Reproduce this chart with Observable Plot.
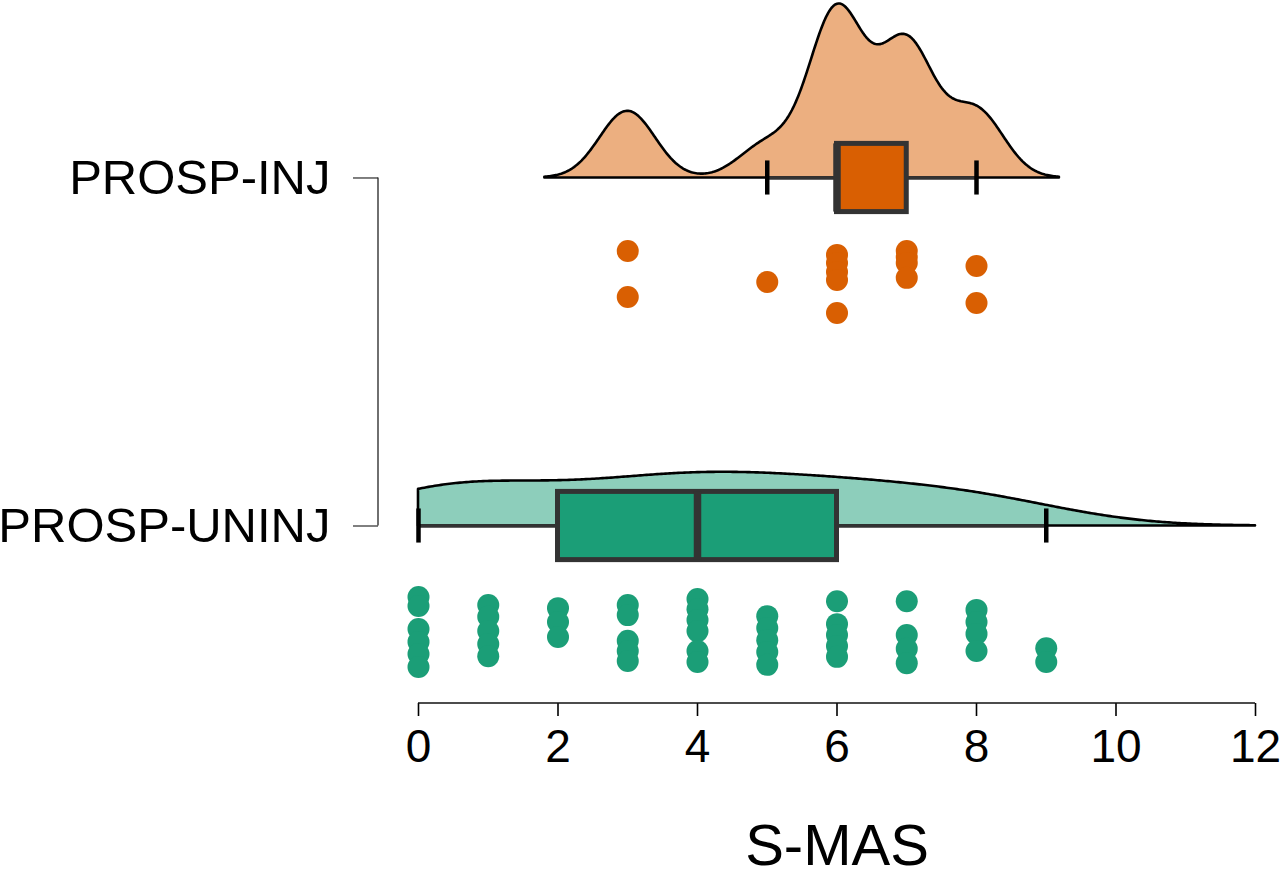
<!DOCTYPE html>
<html>
<head>
<meta charset="utf-8">
<script src="https://cdn.jsdelivr.net/npm/d3@7"></script>
<script src="https://cdn.jsdelivr.net/npm/@observablehq/plot@0.6"></script>
<style>
  html, body { margin: 0; padding: 0; background: #fff; }
  #chart svg { display: block; font-family: "Liberation Sans", Arial, Helvetica, sans-serif; }
</style>
</head>
<body>
<div id="chart"></div>
<script>
// ---- data ----
const groups = ["PROSP-INJ", "PROSP-UNINJ"];
const groupColors = ["#D95F02", "#1B9E77"];

// S-MAS scores per participant
const injScores = [3, 3, 5, 6, 6, 6, 6, 6, 7, 7, 7, 7, 8, 8];
// vertical jitter of each dot below its baseline (in group units)
const injJitter = [0.210, 0.342, 0.299, 0.221, 0.244, 0.270, 0.293, 0.388, 0.210, 0.227, 0.244, 0.287, 0.253, 0.359];

const uninjScores = [
  0, 0, 0, 0, 0, 0,
  1, 1, 1, 1, 1,
  2, 2, 2,
  3, 3, 3, 3, 3,
  4, 4, 4, 4, 4, 4,
  5, 5, 5, 5, 5,
  6, 6, 6, 6, 6,
  7, 7, 7, 7,
  8, 8, 8, 8,
  9, 9
];
const uninjJitter = [
  0.204, 0.230, 0.296, 0.333, 0.368, 0.405,
  0.227, 0.261, 0.302, 0.339, 0.374,
  0.236, 0.276, 0.319,
  0.227, 0.256, 0.330, 0.359, 0.388,
  0.210, 0.239, 0.270, 0.302, 0.359, 0.391,
  0.259, 0.293, 0.328, 0.362, 0.399,
  0.216, 0.282, 0.313, 0.345, 0.376,
  0.216, 0.313, 0.353, 0.394,
  0.241, 0.276, 0.310, 0.359,
  0.351, 0.391
];

const xTicks = [0, 2, 4, 6, 8, 10, 12];
const xTitle = "S-MAS";

// ---- derived tables ----
const scoreSets = [injScores, uninjScores];
const jitterSets = [injJitter, uninjJitter];
const basePos = groups.map((g, i) => groups.length - 1 - i); // INJ = 1, UNINJ = 0
const xLimits = d3.extent(xTicks);

function bwNrd0(v) {
  const s = d3.deviation(v);
  const iqr = d3.quantile(v, 0.75) - d3.quantile(v, 0.25);
  const lo = Math.min(s, iqr / 1.34);
  return 0.9 * lo * Math.pow(v.length, -0.2);
}
function kde(v, bw, lo, hi, n) {
  const out = [];
  const c = 1 / (v.length * bw * Math.sqrt(2 * Math.PI));
  for (let i = 0; i < n; i++) {
    const x = lo + (hi - lo) * i / (n - 1);
    let s = 0;
    for (const d of v) { const z = (x - d) / bw; s += Math.exp(-0.5 * z * z); }
    out.push({x, d: s * c});
  }
  return out;
}

const dens = scoreSets.map((v, gi) => {
  const sorted = v.slice().sort(d3.ascending);
  const bw = bwNrd0(sorted);
  const lo = Math.max(xLimits[0], d3.min(sorted) - 3 * bw);
  const hi = Math.min(xLimits[1], d3.max(sorted) + 3 * bw);
  return kde(sorted, bw, lo, hi, 400).map(p => ({...p, g: gi}));
});
const maxD = d3.max(dens.flat(), p => p.d);
const densHeight = 0.5; // tallest cloud = half a group band
const densRows = dens.map(arr => arr.map(p => ({
  x: p.x, base: basePos[p.g], top: basePos[p.g] + p.d / maxD * densHeight, g: p.g
})));

const boxHalf = 0.098, capHalf = 0.049;
const stats = scoreSets.map((v, gi) => {
  const s = v.slice().sort(d3.ascending);
  const q1 = d3.quantile(s, 0.25), med = d3.quantile(s, 0.5), q3 = d3.quantile(s, 0.75);
  const iqr = q3 - q1;
  const lw = d3.min(s.filter(d => d >= q1 - 1.5 * iqr));
  const uw = d3.max(s.filter(d => d <= q3 + 1.5 * iqr));
  return {g: gi, base: basePos[gi], q1, med, q3, lw, uw};
});

const points = scoreSets.flatMap((v, gi) => v.map((x, i) => ({
  x, y: basePos[gi] - jitterSets[gi][i], g: gi
})));

// axis lines drawn through the scales (R-style range frame)
function axisLines(index, scales, values, dim) {
  const g = d3.create("svg:g");
  g.append("line")
    .attr("x1", dim.marginLeft).attr("x2", dim.marginLeft)
    .attr("y1", scales.y(d3.max(basePos))).attr("y2", scales.y(d3.min(basePos)))
    .attr("stroke", "#222").attr("stroke-width", 1.3);
  const yb = dim.height - dim.marginBottom;
  g.append("line")
    .attr("x1", scales.x(xLimits[0])).attr("x2", scales.x(xLimits[1]))
    .attr("y1", yb).attr("y2", yb)
    .attr("stroke", "#111").attr("stroke-width", 1.6);
  return g.node();
}

const marks = [];
densRows.forEach((rows, gi) => {
  marks.push(Plot.areaY(rows, {
    x: "x", y1: "base", y2: "top",
    fill: groupColors[gi], fillOpacity: 0.5,
    stroke: "black", strokeWidth: 2.6, strokeLinejoin: "round"
  }));
});
marks.push(
  Plot.ruleY(stats, {y: "base", x1: "lw", x2: "q1", stroke: "#333", strokeWidth: 3.5}),
  Plot.ruleY(stats, {y: "base", x1: "q3", x2: "uw", stroke: "#333", strokeWidth: 3.5}),
  Plot.ruleX(stats.flatMap(s => [{x: s.lw, base: s.base}, {x: s.uw, base: s.base}]), {
    x: "x", y1: d => d.base - capHalf, y2: d => d.base + capHalf, stroke: "black", strokeWidth: 4.5
  }),
  Plot.rect(stats, {
    x1: "q1", x2: "q3", y1: d => d.base - boxHalf, y2: d => d.base + boxHalf,
    fill: d => groupColors[d.g], stroke: "#333", strokeWidth: 5
  }),
  Plot.ruleX(stats, {x: "med", y1: d => d.base - boxHalf, y2: d => d.base + boxHalf, stroke: "#333", strokeWidth: 7.5}),
  Plot.dot(points, {x: "x", y: "y", r: 11, fill: d => groupColors[d.g], stroke: "none"}),
  Plot.axisX({ticks: xTicks, tickSize: 13, tickPadding: 13, fontSize: 46, label: null, color: "black", strokeWidth: 1.6}),
  Plot.axisY({ticks: basePos, tickFormat: p => groups[basePos.indexOf(p)], tickSize: 25, tickPadding: 23, fontSize: 49, label: null, color: "black"}),
  Plot.text([xTitle], {x: () => d3.mean(xLimits), frameAnchor: "bottom", dy: 143, text: d => d, fontSize: 58, lineAnchor: "middle", fill: "black"}),
  axisLines
);

const chart = Plot.plot({
  width: 1280,
  height: 875,
  marginLeft: 378,
  marginRight: 25,
  marginTop: 0,
  marginBottom: 172,
  x: {domain: xLimits, insetLeft: 40},
  y: {domain: [-0.51, 1.51]},
  color: {type: "identity"},
  style: {background: "white", color: "black", fontFamily: "'Liberation Sans', Arial, Helvetica, sans-serif", overflow: "visible"},
  marks
});
document.getElementById("chart").appendChild(chart);
</script>
</body>
</html>
